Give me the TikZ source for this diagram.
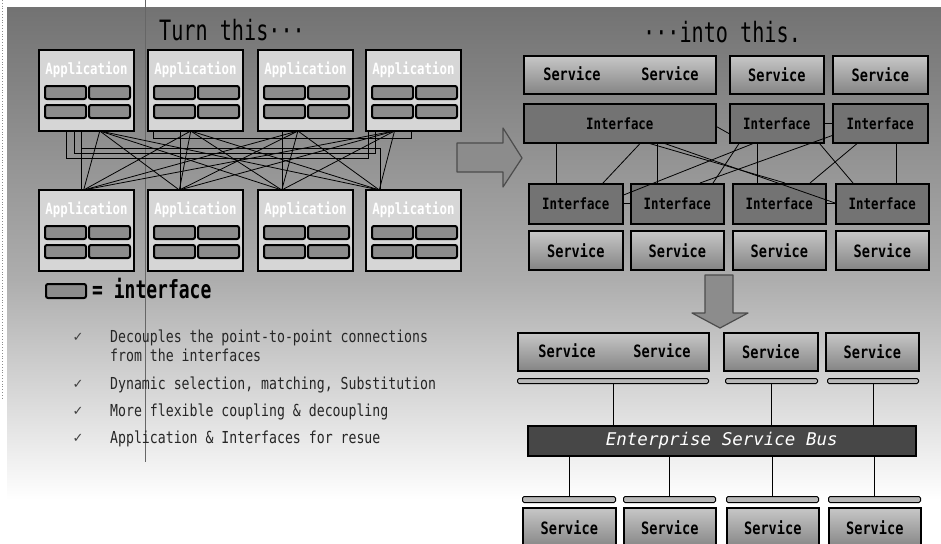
\documentclass[tikz,border=0pt]{standalone}
\usepackage{fontspec}
\usetikzlibrary{calc}
\newfontfamily\gfont[FakeStretch=0.8]{DejaVu Sans Mono}
\newfontfamily\tfont[FakeStretch=0.72]{DejaVu Sans Mono}
\newfontfamily\efont{DejaVu Sans Mono}
\newfontfamily\symfont{DejaVu Sans}
\begin{document}
\begin{tikzpicture}[x=1pt,y=-1pt,
 app/.style={draw=black, line width=2.4pt, fill=black!16, minimum width=95pt, minimum height=81pt, anchor=north west, inner sep=0pt, outer sep=0pt},
 apptxt/.style={text=white, font=\gfont\bfseries\fontsize{15.5}{15.5}\selectfont, inner sep=0pt},
 ibox/.style={draw=black, line width=2pt, fill=black!45, rounded corners=2pt, minimum width=41pt, minimum height=13pt, anchor=north west, inner sep=0pt},
 link/.style={draw=black, line width=0.8pt},
 svc/.style={draw=black, line width=1.6pt, top color=black!22, bottom color=black!48, anchor=north west, inner sep=0pt, minimum height=38pt, font=\gfont\bfseries\fontsize{17}{17}\selectfont},
 ifc/.style={draw=black, line width=1.6pt, fill=black!55, anchor=north west, inner sep=0pt, minimum height=39pt, font=\gfont\bfseries\fontsize{15.5}{15.5}\selectfont},
 bar/.style={draw=black, line width=1pt, fill=black!28, rounded corners=1.5pt, anchor=north west, inner sep=0pt, minimum height=5pt},
 word/.style={inner sep=0pt, font=\gfont\bfseries\fontsize{17}{17}\selectfont},
 bul/.style={anchor=base west, inner sep=0pt, text=black!85, font=\gfont\fontsize{16.5}{16.5}\selectfont},
 chk/.style={anchor=base, inner sep=0pt, text=black!75, font=\symfont\fontsize{13}{13}\selectfont},
 ttl/.style={anchor=base, inner sep=0pt, font=\tfont\fontsize{28}{28}\selectfont},
 blk/.style={fill=black!45, draw=black!70, line width=1.2pt, line join=round}]
\useasboundingbox (0,0) rectangle (941,543);
\clip (0,0) rectangle (941,543);
% background
\fill[white] (0,0) rectangle (941,543);
\shade[top color=black!55, bottom color=black!32] (7,8) rectangle (941,280);
\shade[top color=black!32, bottom color=white] (7,280) rectangle (941,500);
\draw[black!45, dotted, line width=0.8pt] (2,0) -- (2,400);
\draw[black!60, line width=0.5pt] (145,0) -- (145,462);

% titles
\node[ttl] (t1) at (232,41) {Turn this···};
\node[ttl] (t2) at (722,42) {···into this.};

% left application boxes
\foreach \i/\x in {1/39,2/148,3/258,4/366}{
 \node[app] (AT\i) at (\x,50) {};
 \node[apptxt] (ATl\i) at ($(AT\i.north)+(0,20)$) {Application};
 \node[ibox] (ATa\i) at ($(AT\i.north west)+(5,35)$) {};
 \node[ibox] (ATb\i) at ($(AT\i.north west)+(49,35)$) {};
 \node[ibox] (ATc\i) at ($(AT\i.north west)+(5,54)$) {};
 \node[ibox] (ATd\i) at ($(AT\i.north west)+(49,54)$) {};
 \node[app] (AB\i) at (\x,190) {};
 \node[apptxt] (ABl\i) at ($(AB\i.north)+(0,20)$) {Application};
 \node[ibox] (ABa\i) at ($(AB\i.north west)+(5,35)$) {};
 \node[ibox] (ABb\i) at ($(AB\i.north west)+(49,35)$) {};
 \node[ibox] (ABc\i) at ($(AB\i.north west)+(5,54)$) {};
 \node[ibox] (ABd\i) at ($(AB\i.north west)+(49,54)$) {};
}
% mesh
\foreach \i/\ta in {1/0.64,2/0.45,3/0.42,4/0.3}
 \foreach \j/\tb in {1/0.47,2/0.33,3/0.25,4/0.14}
  \draw[link] ($(AT\i.south west)!\ta!(AT\i.south east)$) -- ($(AB\j.north west)!\tb!(AB\j.north east)$);
\draw[link] ($(AT1.south west)+(27,0)$) -- ++(0,27) -| ($(AT4.south west)+(2,0)$);
\draw[link] ($(AT1.south west)+(35,0)$) -- ++(0,22) -| ($(AT4.south west)+(9,0)$);
\draw[link] ($(AT1.south west)+(42,0)$) -- ($(AB1.north west)+(42,0)$);
\draw[link] ($(AT1.south west)+(42,17)$) -| ($(AB4.north west)+(14,0)$);
\draw[link] ($(AT2.south west)+(5,0)$) -- ++(0,7) -| ($(AT4.south west)+(45,0)$);
\draw[link] ($(AT2.south west)+(32,0)$) -- ($(AB2.north west)+(32,0)$);
\draw[link] ($(AT3.south west)+(24,0)$) -- ($(AB3.north west)+(24,0)$);

% legend
\node[ibox, minimum width=40pt, minimum height=14pt] (LG) at (45,283) {};
\node[anchor=base west, inner sep=0pt, font=\tfont\bfseries\fontsize{25}{25}\selectfont] (LGt) at (92,298) {= interface};

% bullets
\node[chk] (c1) at (78,341) {✓};
\node[bul] (b1) at (110,342.7) {Decouples the point-to-point connections};
\node[bul] (b1c) at (110,361.7) {from the interfaces};
\node[chk] (c2) at (78,388) {✓};
\node[bul] (b2) at (110,389) {Dynamic selection, matching, Substitution};
\node[chk] (c3) at (78,415) {✓};
\node[bul] (b3) at (110,416.7) {More flexible coupling \& decoupling};
\node[chk] (c4) at (78,442) {✓};
\node[bul] (b4) at (110,443.3) {Application \& Interfaces for resue};

% block arrows
\filldraw[blk] (457,143) -- (503,143) -- (503,128) -- (522,158) -- (503,187) -- (503,172) -- (457,172) -- cycle;
\filldraw[blk] (705,275) -- (733,275) -- (733,313) -- (748,313) -- (720,328) -- (692,313) -- (705,313) -- cycle;

% right upper
\node[svc, minimum width=192pt] (RS1) at (523,55) {};
\node[word] (RS1a) at (572,74) {Service};
\node[word] (RS1b) at (670,74) {Service};
\node[svc, minimum width=94pt] (RS2) at (729,55) {Service};
\node[svc, minimum width=95pt] (RS3) at (832,55) {Service};
\node[ifc, minimum width=192pt] (RI1) at (523,103) {Interface};
\node[ifc, minimum width=94pt] (RI2) at (729,103) {Interface};
\node[ifc, minimum width=95pt] (RI3) at (832,103) {Interface};
\foreach \j/\x/\w in {1/528/94,2/630/93,3/732/93,4/835/93}{
 \node[ifc, minimum width=\w pt, minimum height=40pt] (RJ\j) at (\x,183) {Interface};
 \node[svc, minimum width=\w pt, minimum height=39pt] (RK\j) at (\x,230) {Service};
}
\draw[link] ($(RI1.south west)+(33,0)$) -- ($(RJ1.north west)+(28,0)$);
\draw[link] ($(RI1.south west)+(134,0)$) -- ($(RJ2.north west)+(27,0)$);
\draw[link] ($(RI2.south west)+(28,0)$) -- ($(RJ3.north west)+(25,0)$);
\draw[link] ($(RI3.south west)+(64,0)$) -- ($(RJ4.north west)+(61,0)$);
\draw[link] ($(RI1.south west)+(117,0)$) -- ($(RJ1.north west)+(75,0)$);
\draw[link] ($(RI1.south west)+(127,0)$) -- ($(RJ3.north west)+(53,0)$);
\draw[link] ($(RI1.south west)+(142,0)$) -- ($(RJ4.north west)+(0,20)$);
\draw[link] ($(RI2.south west)+(24,0)$) -- ($(RJ1.north east)+(0,12)$);
\draw[link] ($(RI2.south west)+(10,0)$) -- ($(RJ2.north west)+(83,0)$);
\draw[link] ($(RI2.south east)+(-5,0)$) -- ($(RJ4.north west)+(18,0)$);
\draw[link] ($(RI3.south west)+(25,0)$) -- ($(RJ3.north west)+(78,0)$);
\draw[link] ($(RI3.south west)+(0,-8)$) -- ($(RJ2.north west)+(70,0)$);
\draw[link] ($(RI1.south east)+(0,-17)$) -- ($(RI2.south west)+(0,-10)$);
\draw[link] (RI2.east) -- (RI3.west);
\draw[link] (RJ1.east) -- (RJ2.west);
\draw[link] (RJ3.east) -- (RJ4.west);

% ESB section
\node[svc, minimum width=191pt] (ES1) at (517,332) {};
\node[word] (ES1a) at (567,351) {Service};
\node[word] (ES1b) at (662,351) {Service};
\node[svc, minimum width=94pt] (ES2) at (723,332) {Service};
\node[svc, minimum width=93pt] (ES3) at (825,332) {Service};
\node[bar, minimum width=191pt] (EB1) at (517,378) {};
\node[bar, minimum width=92pt] (EB2) at (725,378) {};
\node[bar, minimum width=91pt] (EB3) at (827,378) {};
\node[draw=black, line width=1.5pt, fill=black!72, anchor=north west, minimum width=388pt, minimum height=30pt, inner sep=0pt, text=white, font=\efont\itshape\fontsize{17.5}{17.5}\selectfont] (ESB) at (527,425) {Enterprise Service Bus};
\foreach \j/\x/\w in {1/522/93,2/623/92,3/726/92,4/828/92}{
 \node[bar, minimum width=\w pt, minimum height=6pt] (FB\j) at (\x,496) {};
 \node[svc, minimum width=\w pt, minimum height=40pt] (FS\j) at (\x,507) {Service};
 \draw[link] (FB\j.north |- ESB.south) -- (FB\j.north);
}
\foreach \k in {1,2,3}{
 \draw[link] (EB\k.south) -- (EB\k.south |- ESB.north);
}
\end{tikzpicture}
\end{document}
